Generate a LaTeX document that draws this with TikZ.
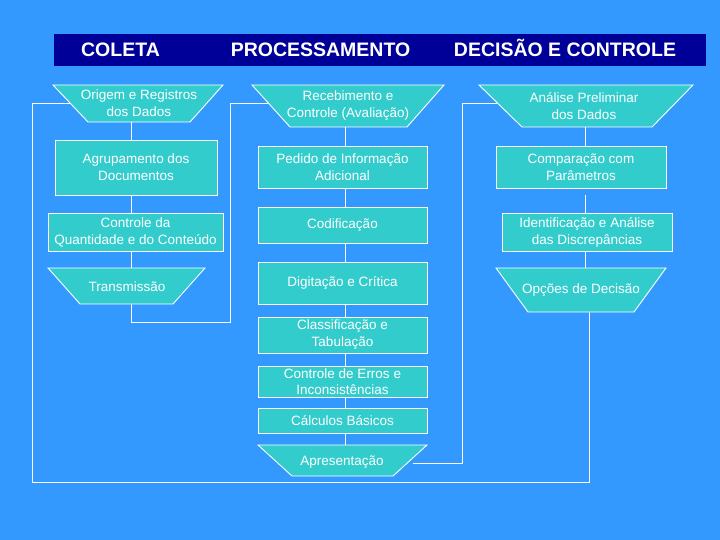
\documentclass[tikz,border=0pt]{standalone}
\usepackage{fontspec}
\setmainfont{Liberation Sans}
\usetikzlibrary{calc}
\definecolor{bgblue}{RGB}{51,153,255}
\definecolor{navy}{RGB}{0,0,153}
\definecolor{turq}{RGB}{51,204,204}
\tikzset{
  boxst/.style={draw=white, fill=turq, line width=0.9pt, inner sep=0pt, align=center,
     text=white, font=\fontsize{13.5}{17}\selectfont},
  trapst/.style={draw=white, fill=turq, line width=0.9pt},
  txtst/.style={inner sep=0pt, align=center, text=white, font=\fontsize{13.5}{17}\selectfont},
  hdst/.style={text=white, font=\fontsize{19.5}{22}\selectfont\bfseries, inner sep=0pt, anchor=base},
  conn/.style={draw=white, line width=0.9pt}
}
% name, xTL, xTR, yT, xBL, xBR, yB, text-x, text-y  (text in \trapText)
\newcommand\trapbox[9]{%
  \coordinate (#1-tl) at (#2,#4);
  \coordinate (#1-tr) at (#3,#4);
  \coordinate (#1-bl) at (#5,#7);
  \coordinate (#1-br) at (#6,#7);
  \filldraw[trapst] (#1-tl) -- (#1-tr) -- (#1-br) -- (#1-bl) -- cycle;
  \coordinate (#1-l) at ($(#1-tl)!0.5!(#1-bl)$);
  \coordinate (#1-r) at ($(#1-tr)!0.5!(#1-br)$);
  \coordinate (#1-b) at ($(#1-bl)!0.5!(#1-br)$);
  \coordinate (#1-t) at ($(#1-tl)!0.5!(#1-tr)$);
  \node[txtst] (#1) at (#8,#9) {\trapText};
}
\begin{document}
\begin{tikzpicture}[x=1pt,y=-1pt]
\fill[bgblue] (0,0) rectangle (720,540);
\useasboundingbox (0,0) rectangle (720,540);

% header
\node[fill=navy, minimum width=652pt, minimum height=32pt, inner sep=0pt] (header) at (380,50) {};
\node[hdst] (h1) at (120.5,57) {COLETA};
\node[hdst] (h2) at (320.5,57) {PROCESSAMENTO};
\node[hdst] (h3) at (565,57) {DECISÃO E CONTROLE};

% column axes
\coordinate (c1) at (131,0);
\coordinate (c2) at (345,0);
\coordinate (c3) at (585,0);

% ---- COLETA ----
\def\trapText{Origem e Registros\\dos Dados}
\trapbox{orig}{53}{223}{85}{88}{190}{122}{139}{103.5}
\node[boxst, minimum width=162pt, minimum height=55pt] (agrup) at (136,167.5) {Agrupamento dos\\Documentos};
\node[boxst, minimum width=175pt, minimum height=38pt] (ctrlq) at (135.5,232) {Controle da\\Quantidade e do Conteúdo};
\def\trapText{Transmissão}
\trapbox{trans}{48}{205}{268}{80}{173}{304}{127}{287}

% ---- PROCESSAMENTO ----
\def\trapText{Recebimento e\\Controle (Avaliação)}
\trapbox{receb}{252}{444}{85}{290}{407}{127}{348}{106}
\coordinate (receb-l) at ($(receb-tl)!0.43!(receb-bl)$);
\node[boxst, minimum width=169pt, minimum height=42pt] (pedido) at (342.5,167) {Pedido de Informação\\Adicional};
\node[boxst, minimum width=169pt, minimum height=36pt] (codif) at (342.5,225) {Codificação};
\node[boxst, minimum width=169pt, minimum height=42pt] (digit) at (342.5,283) {Digitação e Crítica};
\node[boxst, minimum width=169pt, minimum height=36pt] (classif) at (342.5,335) {Classificação e\\Tabulação};
\node[boxst, minimum width=169pt, minimum height=31pt, font=\fontsize{13.5}{16.5}\selectfont] (erros) at (342.5,381.5) {Controle de Erros e\\Inconsistências};
\node[boxst, minimum width=169pt, minimum height=25pt] (calc) at (342.5,420.5) {Cálculos Básicos};
\def\trapText{Apresentação}
\trapbox{apres}{258}{427}{445}{292}{393}{476}{342}{462}
\coordinate (apres-r) at ($(apres-tr)!0.58!(apres-br)$);

% ---- DECISAO E CONTROLE ----
\def\trapText{Análise Preliminar\\dos Dados}
\trapbox{anal}{479}{693}{85}{522}{652}{127}{584}{106}
\coordinate (anal-l) at ($(anal-tl)!0.43!(anal-bl)$);
\node[boxst, minimum width=170pt, minimum height=42pt] (comp) at (581,167) {Comparação com\\Parâmetros};
\node[boxst, minimum width=170pt, minimum height=38pt] (ident) at (587,232) {Identificação e Análise\\das Discrepâncias};
\def\trapText{Opções de Decisão}
\trapbox{opc}{496}{666}{268}{528}{634}{312}{581}{290}

% ---- connectors, column 1 ----
\draw[conn] (c1 |- orig-b) -- (c1 |- agrup.north);
\draw[conn] (c1 |- agrup.south) -- (c1 |- ctrlq.north);
\draw[conn] (c1 |- ctrlq.south) -- (c1 |- trans-t);
% ---- column 2 ----
\draw[conn] (c2 |- receb-b) -- (c2 |- pedido.north);
\draw[conn] (c2 |- pedido.south) -- (c2 |- codif.north);
\draw[conn] (c2 |- codif.south) -- (c2 |- digit.north);
\draw[conn] (c2 |- digit.south) -- (c2 |- classif.north);
\draw[conn] (c2 |- classif.south) -- (c2 |- erros.north);
\draw[conn] (c2 |- erros.south) -- (c2 |- calc.north);
\draw[conn] (c2 |- calc.south) -- (c2 |- apres-t);
% ---- column 3 ----
\draw[conn] (c3 |- anal-b) -- (c3 |- comp.north);
\draw[conn, shorten <=7pt] (c3 |- comp.south) -- (c3 |- ident.north);
\draw[conn] (c3 |- ident.south) -- (c3 |- opc-t);

% ---- loops ----
\coordinate (k1) at (230,322);
\draw[conn] (c1 |- trans-b) |- (k1) |- (receb-l);
\coordinate (k2) at (462,463);
\draw[conn, shorten <=6pt] (apres-r) -- (k2 |- apres-r) |- (anal-l);
\coordinate (k3) at (589,482);
\coordinate (k4) at (32,482);
\draw[conn] (k3 |- opc-b) -- (k3) -- (k4) |- (orig-l);
\end{tikzpicture}
\end{document}
